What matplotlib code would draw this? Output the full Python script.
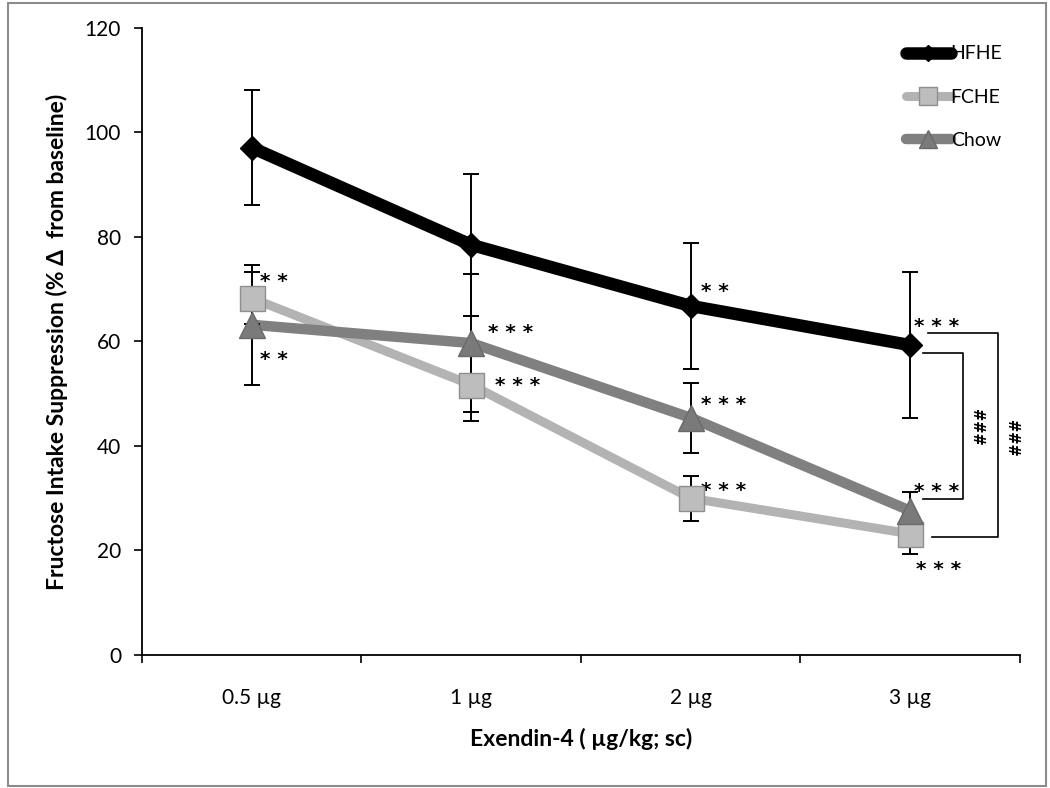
import matplotlib.pyplot as plt
from matplotlib.lines import Line2D
from matplotlib.patches import Rectangle

plt.rcParams['font.family'] = ['Lato', 'DejaVu Sans']

doses = ["0.5 µg", "1 µg", "2 µg", "3 µg"]
hfhe = [97.1, 78.5, 66.8, 59.3]
hfhe_err = [11.0, 13.6, 12.0, 14.0]
fche = [68.3, 51.7, 30.0, 23.2]
fche_err = [5.0, 7.0, 4.3, 3.8]
chow = [63.2, 59.7, 45.4, 27.6]
chow_err = [11.5, 13.2, 6.7, 3.6]

# significance marks: (x index, y value, text)
stars = [
    (0, 72.5, "**"), (0, 57.5, "**"),
    (1, 62.8, "***"), (1, 52.6, "***"),
    (2, 70.6, "**"), (2, 49.0, "***"), (2, 32.5, "***"),
    (3, 63.8, "***"), (3, 32.3, "***"), (3, 17.3, "***"),
]
star_dx = [0.1, 0.1, 0.18, 0.21, 0.11, 0.15, 0.15, 0.12, 0.12, 0.13]

fig = plt.figure(figsize=(10.5, 7.88), dpi=100)
fig.patches.append(Rectangle((0.008, 0.003), 0.988, 0.993, transform=fig.transFigure,
                             fill=False, edgecolor="#8c8c8c", linewidth=1.5))
ax = fig.add_axes([0.1352, 0.1688, 0.8362, 0.7957])

x = list(range(len(doses)))

series = [
    ("HFHE", hfhe, hfhe_err, "black", 9, "D", 12, "black", "black"),
    ("FCHE", fche, fche_err, "#b3b3b3", 6.5, "s", 18, "#bdbdbd", "#8f8f8f"),
    ("Chow", chow, chow_err, "#808080", 7.5, "^", 19, "#7a7a7a", "#6a6a6a"),
]

handles = []
for i, (name, vals, errs, col, lw, mk, ms, fc, ec) in enumerate(series):
    ax.plot(x, vals, color=col, linewidth=lw, solid_capstyle="round", zorder=2 + i * 0.1)
    ax.errorbar(x, vals, yerr=errs, fmt="none", ecolor="black", elinewidth=1.4,
                capsize=6, capthick=1.4, zorder=3)
    ax.plot(x, vals, linestyle="none", marker=mk, markersize=ms, markerfacecolor=fc,
            markeredgecolor=ec, markeredgewidth=1, zorder=4 + i * 0.1)
    handles.append(Line2D([], [], color=col, linewidth=lw, solid_capstyle="round",
                          marker=mk, markersize=ms * 0.7, markerfacecolor=fc,
                          markeredgecolor=ec))

for (xi, yv, txt), dx in zip(stars, star_dx):
    ax.text(xi + dx, yv - 1.0, " ".join(txt), fontsize=14.5, fontweight="bold",
            ha="center", va="center", family="DejaVu Sans")

# brackets at 3 µg
ax.plot([3.06, 3.24, 3.24, 3.06], [57.7, 57.7, 29.9, 29.9], color="black", lw=1.2)
ax.plot([3.08, 3.40, 3.40, 3.10], [61.7, 61.7, 22.6, 22.6], color="black", lw=1.2)
ax.text(3.30, 43.5, "###", rotation=270, fontsize=10.5, fontweight="bold",
        ha="center", va="center", family="DejaVu Sans")
ax.text(3.46, 41.5, "###", rotation=270, fontsize=10.5, fontweight="bold",
        ha="center", va="center", family="DejaVu Sans")

ax.set_xlim(-0.5, 3.5)
ax.set_ylim(0, 120)
ax.set_yticks(range(0, 121, 20))
ax.set_xticks([-0.5, 0.5, 1.5, 2.5, 3.5])
ax.set_xticklabels([])
ax.set_xticks(x, minor=True)
ax.set_xticklabels(doses, minor=True)
ax.tick_params(axis="x", which="major", direction="out", length=6, width=1.2)
ax.tick_params(axis="x", which="minor", length=0, pad=24, labelsize=15)
ax.tick_params(axis="y", direction="out", length=6, width=1.2, pad=9, labelsize=15)

for side in ["top", "right"]:
    ax.spines[side].set_visible(False)
ax.spines["left"].set_linewidth(1.3)
ax.spines["bottom"].set_linewidth(1.3)

ax.set_xlabel("Exendin-4 ( µg/kg; sc)", fontsize=16.5, fontweight="bold", labelpad=14)
ax.set_ylabel("Fructose Intake Suppression (% Δ  from baseline)", fontsize=16.5,
              fontweight="bold", labelpad=12)

ax.legend(handles, [s[0] for s in series], loc="upper right", bbox_to_anchor=(1.0, 1.0),
          frameon=False, fontsize=14, handlelength=2.3, handletextpad=0.0,
          labelspacing=1.35, borderaxespad=0.5)

fig.savefig("out.png", dpi=100)
